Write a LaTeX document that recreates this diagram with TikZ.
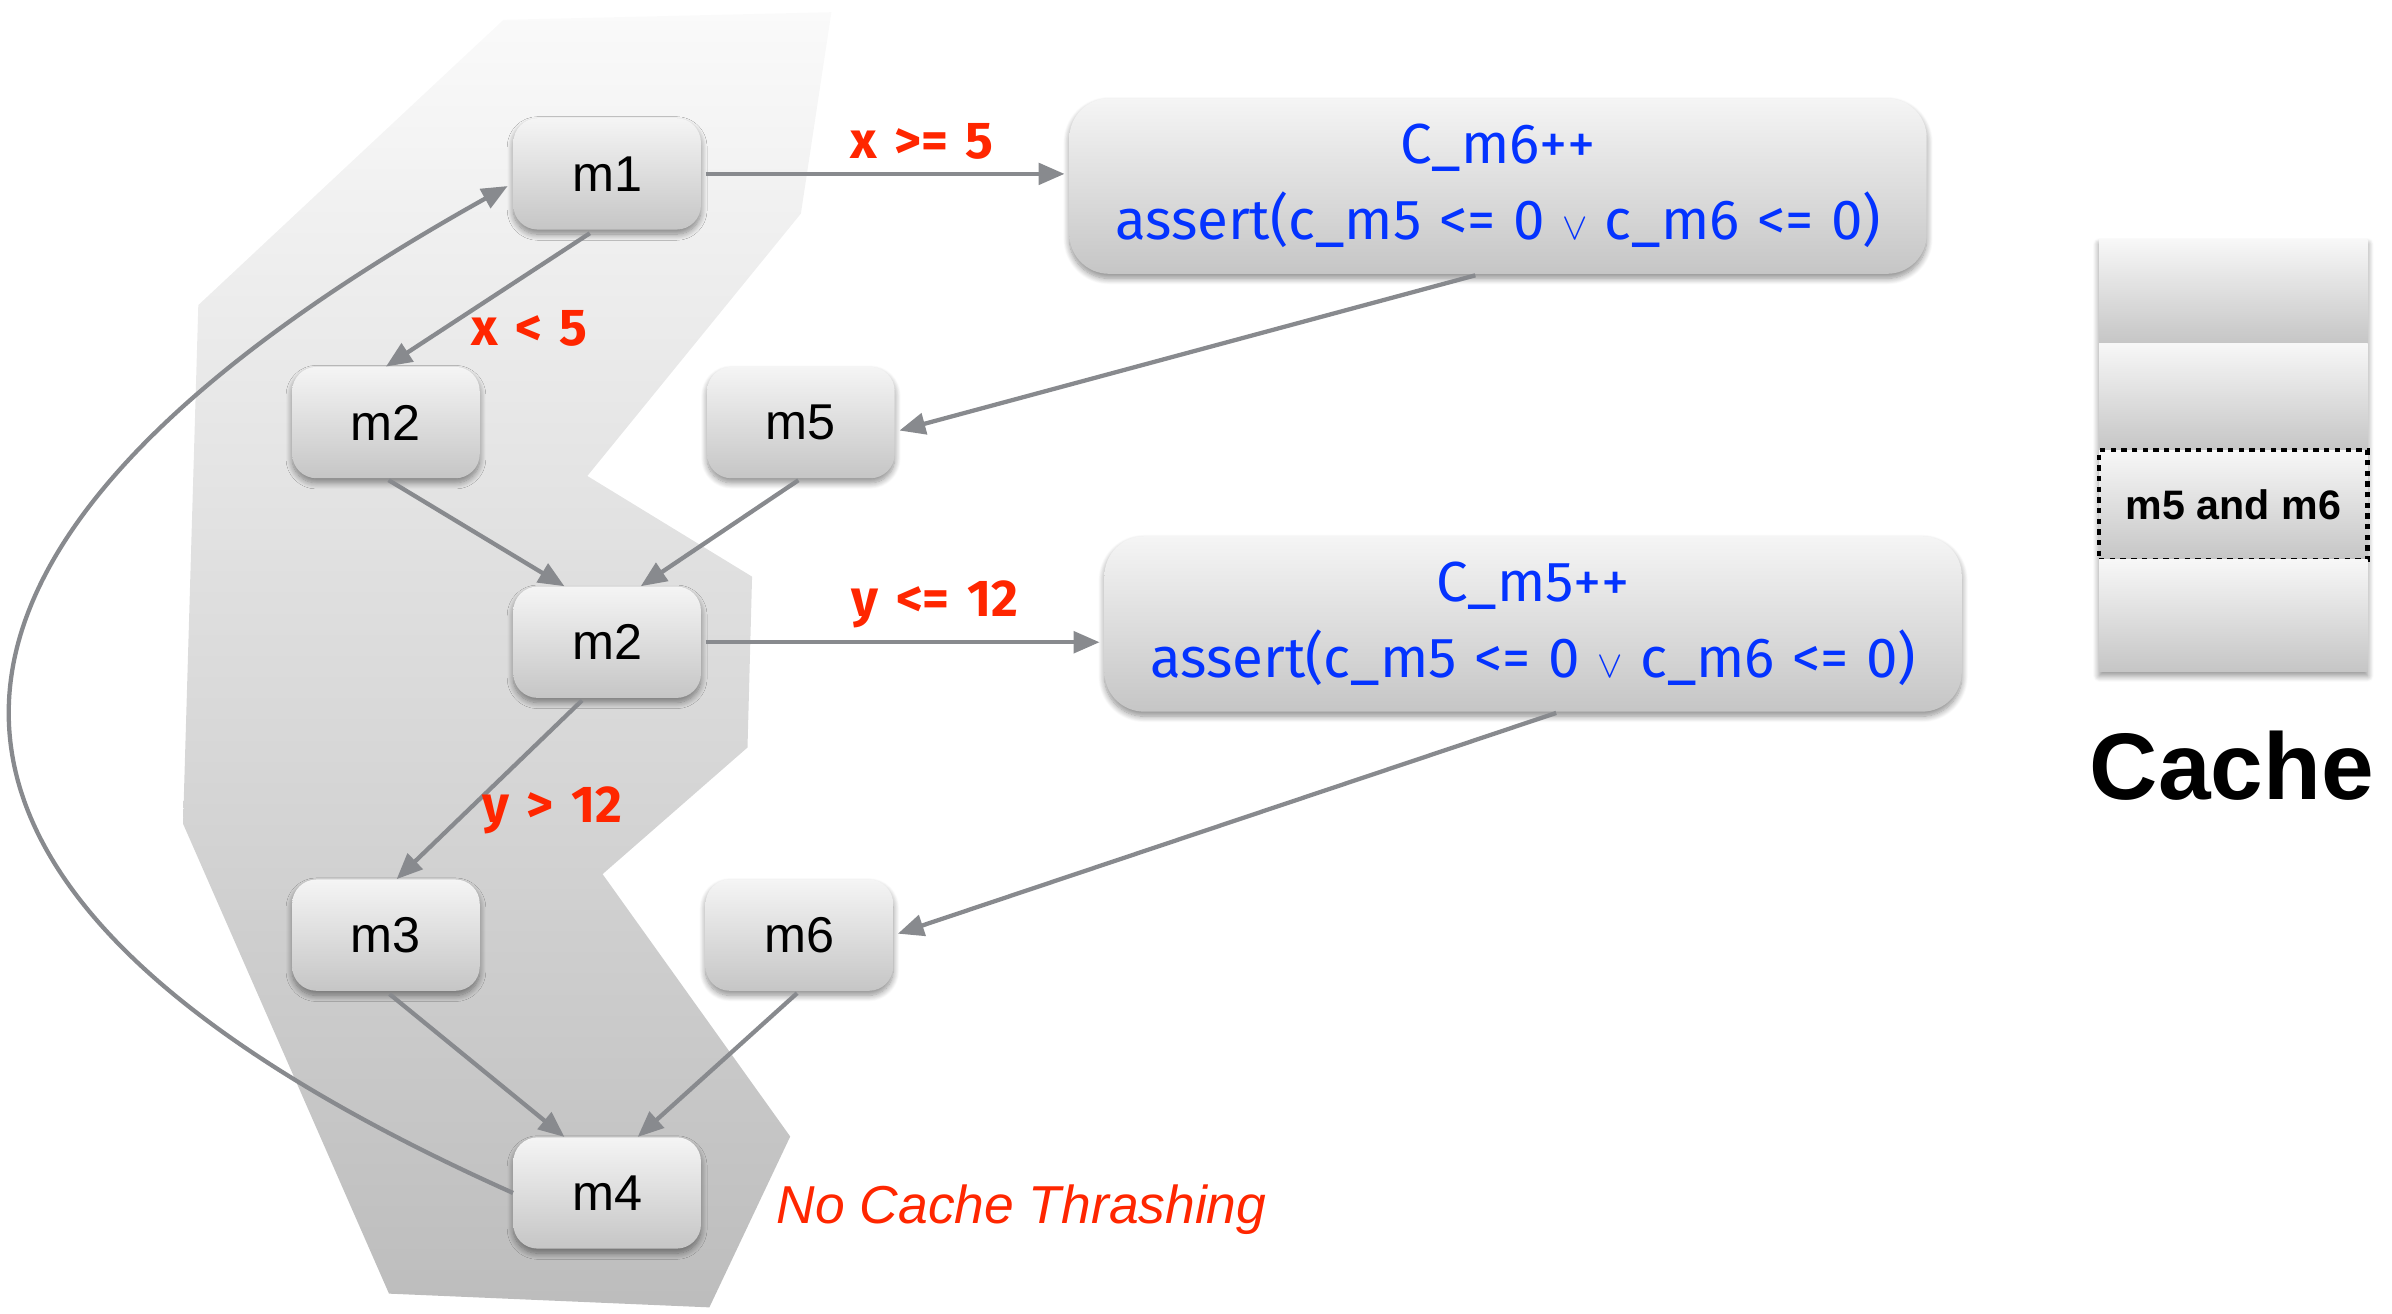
\documentclass[tikz,border=0pt]{standalone}
\usepackage{fontspec}
\setmainfont{Liberation Sans}
\newfontfamily\codefont{Fira Sans}
\usetikzlibrary{arrows.meta,shadows.blur}

\definecolor{edgegray}{RGB}{136,138,142}
\definecolor{labelred}{RGB}{255,38,0}
\definecolor{codeblue}{RGB}{4,51,255}

% small logical-or sign used inside the assertions
\newcommand\orsign{{\fontsize{28}{28}\selectfont$\vee$}}
% wider word gaps for the code-style texts
\newcommand\widespaces{\spaceskip=11.5pt\relax}

\tikzset{
  softshadow/.style={blur shadow={shadow xshift=0pt, shadow yshift=-3pt,
      shadow blur radius=4pt, shadow blur steps=10, shadow opacity=45}},
  mbox/.style={rounded corners=16pt, minimum width=123pt, minimum height=73pt,
      inner sep=0pt, top color=gray!8, bottom color=gray!45, softshadow,
      font=\fontsize{33}{36}\selectfont},
  codebox/.style={rounded corners=26pt, minimum width=562pt, minimum height=115pt,
      inner sep=0pt, top color=gray!8, bottom color=gray!45, softshadow,
      align=center, text=codeblue,
      font=\codefont\fontsize{37}{50}\selectfont,
      execute at begin node=\widespaces},
  cacherow/.style={minimum width=176pt, inner sep=0pt,
      top color=gray!6, bottom color=gray!45},
  flow/.style={draw=edgegray, line width=2.8pt,
      -{Triangle[length=17pt,width=14pt]}},
  cond/.style={text=labelred, inner sep=0pt,
      font=\codefont\bfseries\fontsize{34}{36}\selectfont,
      execute at begin node=\widespaces},
}

\begin{document}
\begin{tikzpicture}[x=1pt, y=-1pt]
\useasboundingbox (0,0) rectangle (1568,861);

% shaded region enclosing the loop body
\shade[top color=gray!4, bottom color=gray!52]
  (330,13) -- (545,8) -- (525,140) -- (385,312) -- (493,378) -- (490,490)
  -- (395,573) -- (518,745) -- (465,857) -- (255,848) -- (120,540)
  -- (130,200) -- cycle;

% control-flow blocks
\node[mbox] (m1)  at (398,114) {m1};
\node[mbox] (m2a) at (253,277) {m2};
\node[mbox] (m5)  at (525,277) {m5};
\node[mbox] (m2b) at (398,421) {m2};
\node[mbox] (m3)  at (253,613) {m3};
\node[mbox] (m6)  at (524,613) {m6};
\node[mbox] (m4)  at (398,782) {m4};

% instrumentation blocks
\node[codebox] (c6) at (982,122)
  {C\_m6++\\assert(c\_m5 <= 0 \orsign{} c\_m6 <= 0)};
\node[codebox] (c5) at (1005,409)
  {C\_m5++\\assert(c\_m5 <= 0 \orsign{} c\_m6 <= 0)};

% edges
\draw[flow, shorten <=3pt, shorten >=3pt] (m1.east) -- (c6.west |- m1.east)
  node[cond, pos=0.6, above=8pt] (l1) {x >= 5};
\draw[flow, shorten <=4pt] ([xshift=-8pt]m1.south) -- (m2a.north)
  node[cond, pos=0.72, anchor=west, xshift=16pt] (l2) {x < 5};
\draw[flow, shorten <=2pt] (m2a.south) -- ([xshift=-28pt]m2b.north);
\draw[flow, shorten <=2pt] (m5.south) -- ([xshift=22pt]m2b.north);
\draw[flow, shorten <=3pt, shorten >=3pt] ([xshift=-12pt]c6.south) -- ([yshift=-6pt]m5.east);
\draw[flow, shorten <=3pt, shorten >=3pt] (m2b.east) -- (c5.west |- m2b.east)
  node[cond, pos=0.58, above=8pt] (l3) {y <= 12};
\draw[flow, shorten <=2pt] ([xshift=-15pt]m2b.south) -- ([xshift=7pt]m3.north)
  node[cond, pos=0.62, anchor=west, xshift=8pt] (l4) {y > 12};
\draw[flow, shorten <=2pt, shorten >=3pt] ([xshift=17pt]c5.south) -- (m6.east);
\draw[flow, shorten <=3pt] (m3.south) -- ([xshift=-28pt]m4.north);
\draw[flow, shorten <=2pt] (m6.south) -- ([xshift=20pt]m4.north);
\draw[flow, shorten >=4pt] (m4.west) .. controls (-160,560) and (-40,330)
  .. ([yshift=-6pt]m1.west);

% cache
\node[minimum width=176pt, minimum height=283pt, fill=white, softshadow]
  (cachecol) at (1464,298.5) {};
\node[cacherow, minimum height=68pt] (r1) at (1464,191) {};
\node[cacherow, minimum height=70pt] (r2) at (1464,260) {};
\node[cacherow, minimum height=72pt, draw=black, line width=3pt,
  dash pattern=on 3.5pt off 3.5pt, font=\bfseries\fontsize{27}{30}\selectfont]
  (r3) at (1464,331) {m5 and m6};
\node[cacherow, minimum height=73pt] (r4) at (1464,403.5) {};
\node[font=\bfseries\fontsize{62}{70}\selectfont] (cachelabel) at (1463,502) {Cache};

\node[anchor=west, inner sep=0pt, text=labelred,
  font=\itshape\fontsize{35}{40}\selectfont] (nothrash) at (509,793)
  {No Cache Thrashing};
\end{tikzpicture}
\end{document}
